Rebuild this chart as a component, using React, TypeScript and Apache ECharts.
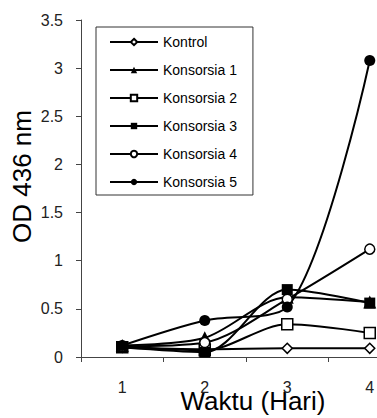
import React, { useEffect, useRef } from "react";
import * as echarts from "echarts";

const days = ["1", "2", "3", "4"];
const kontrol = [0.1, 0.08, 0.09, 0.09];
const konsorsia1 = [0.12, 0.2, 0.62, 0.57];
const konsorsia2 = [0.1, 0.07, 0.34, 0.25];
const konsorsia3 = [0.1, 0.05, 0.7, 0.56];
const konsorsia4 = [0.11, 0.15, 0.6, 1.12];
const konsorsia5 = [0.12, 0.38, 0.52, 3.08];

const seriesDefs = [
  { name: "Kontrol", data: kontrol, symbol: "diamond", size: 10, hollow: true },
  { name: "Konsorsia 1", data: konsorsia1, symbol: "triangle", size: 13, hollow: false },
  { name: "Konsorsia 2", data: konsorsia2, symbol: "rect", size: 11, hollow: true },
  { name: "Konsorsia 3", data: konsorsia3, symbol: "rect", size: 11, hollow: false },
  { name: "Konsorsia 4", data: konsorsia4, symbol: "circle", size: 10, hollow: true },
  { name: "Konsorsia 5", data: konsorsia5, symbol: "circle", size: 11, hollow: false },
];

const FONT = "'Liberation Sans', Arial, sans-serif";

export default function App() {
  const ref = useRef<HTMLDivElement>(null);
  useEffect(() => {
    document.body.style.margin = "0";
    const chart = echarts.init(ref.current!, undefined, { renderer: "svg" });
    chart.setOption({
      animation: false,
      backgroundColor: "#fff",
      textStyle: { fontFamily: FONT },
      grid: {
        left: 81,
        top: 20,
        bottom: 61,
        right: 0,
        containLabel: false,
        outerBoundsMode: "none",
      },
      legend: {
        orient: "vertical",
        left: 96,
        top: 27,
        padding: [8, 16, 6, 13],
        itemWidth: 48,
        itemHeight: 8,
        itemGap: 14,
        borderColor: "#333",
        borderWidth: 1,
        textStyle: { fontSize: 14, lineHeight: 14, color: "#000", fontFamily: FONT },
        data: seriesDefs.map((s) => s.name),
      },
      xAxis: {
        type: "category",
        data: days,
        boundaryGap: true,
        name: "Waktu (Hari)",
        nameLocation: "middle",
        nameGap: 31,
        nameMoveOverlap: false,
        nameTextStyle: { fontSize: 26, color: "#000", fontFamily: FONT, padding: [0, 0, 0, 14] },
        axisLine: { lineStyle: { color: "#444", width: 1 } },
        axisTick: { show: true, length: 5, inside: false, lineStyle: { color: "#444" } },
        axisLabel: { fontSize: 16, color: "#222", margin: 22, fontFamily: FONT },
        splitLine: { show: false },
      },
      yAxis: {
        type: "value",
        min: 0,
        max: 3.5,
        interval: 0.5,
        name: "OD 436 nm",
        nameLocation: "middle",
        nameGap: 46,
        nameRotate: 90,
        nameMoveOverlap: false,
        nameTextStyle: { fontSize: 26, color: "#000", fontFamily: FONT, padding: [0, 0, 0, 24] },
        axisLine: { show: true, lineStyle: { color: "#444", width: 1 } },
        axisTick: { show: true, length: 5, inside: false, lineStyle: { color: "#444" } },
        axisLabel: { fontSize: 16, color: "#222", margin: 18, fontFamily: FONT },
        splitLine: { show: false },
      },
      series: seriesDefs.map((s) => ({
        name: s.name,
        type: "line",
        data: s.data,
        smooth: 0.3,
        symbol: s.symbol,
        symbolSize: s.size,
        showSymbol: true,
        clip: false,
        lineStyle: { color: "#000", width: 2 },
        itemStyle: {
          color: s.hollow ? "#fff" : "#000",
          borderColor: "#000",
          borderWidth: s.hollow ? 1.5 : 0,
        },
        emphasis: { disabled: true },
      })),
    });
    return () => chart.dispose();
  }, []);
  return (
    <div style={{ width: 377, height: 418, overflow: "hidden", position: "relative" }}>
      <div ref={ref} style={{ width: 411, height: 418 }} />
    </div>
  );
}
